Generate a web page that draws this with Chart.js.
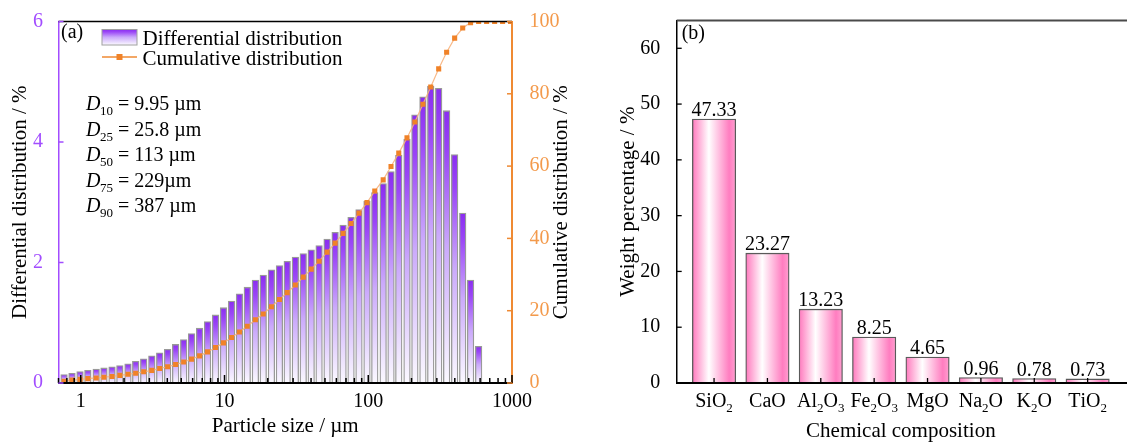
<!DOCTYPE html>
<html>
<head>
<meta charset="utf-8">
<script src="https://cdn.jsdelivr.net/npm/chart.js"></script>
<style>
  html, body { margin: 0; padding: 0; background: #fff; overflow: hidden; }
  #wrap { position: relative; width: 1127px; height: 446px; overflow: hidden; }
  #left { position: absolute; left: 0; top: 0; }
  #right { position: absolute; left: 580px; top: 0; }
</style>
</head>
<body>
<div id="wrap">
  <canvas id="left" width="580" height="446"></canvas>
  <canvas id="right" width="549" height="446"></canvas>
</div>
<script>
const FONT = "'Liberation Serif', 'Times New Roman', serif";

// (a) particle size distribution
const sizes = [0.765, 0.869, 0.988, 1.12, 1.28, 1.45, 1.65, 1.87, 2.13, 2.41,
  2.74, 3.12, 3.54, 4.02, 4.57, 5.20, 5.90, 6.71, 7.62, 8.66,
  9.84, 11.2, 12.7, 14.4, 16.4, 18.6, 21.2, 24.1, 27.3, 31.1,
  35.3, 40.1, 45.5, 51.7, 58.8, 66.8, 75.9, 86.2, 98.0, 111,
  127, 144, 163, 186, 211, 240, 272, 309, 351, 399,
  454, 515, 586];
const differential = [0.14, 0.16, 0.19, 0.21, 0.23, 0.25, 0.27, 0.29, 0.32, 0.36,
  0.40, 0.45, 0.50, 0.56, 0.64, 0.72, 0.82, 0.91, 1.02, 1.13,
  1.25, 1.36, 1.48, 1.59, 1.71, 1.79, 1.88, 1.95, 2.02, 2.09,
  2.15, 2.21, 2.28, 2.39, 2.50, 2.62, 2.75, 2.88, 3.02, 3.16,
  3.31, 3.51, 3.78, 4.05, 4.45, 4.75, 4.93, 4.89, 4.52, 3.79,
  2.82, 1.71, 0.61];
const tailSizes = [666, 757, 860, 977];
const cumSizes = sizes.concat(tailSizes);
const cumulative = [0.5, 0.8, 1.0, 1.2, 1.4, 1.6, 1.8, 2.1, 2.4, 2.7,
  3.1, 3.5, 4.0, 4.5, 5.1, 5.8, 6.6, 7.5, 8.6, 9.8,
  11.1, 12.6, 14.1, 15.7, 17.5, 19.1, 21.1, 23.1, 25.0, 27.1,
  29.3, 31.5, 33.7, 36.2, 38.7, 41.4, 44.1, 47.0, 49.9, 53.1,
  56.2, 59.9, 63.6, 67.8, 72.2, 77.1, 81.9, 86.9, 91.5, 95.4,
  98.2, 99.7, 100, 100, 100, 100, 100];
const xTickValues = [1, 10, 100, 1000];
const dSubs = ['10', '25', '50', '75', '90'];
const dValues = ['9.95 µm', '25.8 µm', '113 µm', '229µm', '387 µm'];

// (b) chemical composition
const oxides = ['SiO2', 'CaO', 'Al2O3', 'Fe2O3', 'MgO', 'Na2O', 'K2O', 'TiO2'];
const weights = [47.33, 23.27, 13.23, 8.25, 4.65, 0.96, 0.78, 0.73];

const PURPLE = '#a24dff';
const ORANGE = '#ef8a33';

function purpleGradient(ctx, top, base) {
  const g = ctx.createLinearGradient(0, top, 0, base);
  g.addColorStop(0, '#8a2df0');
  g.addColorStop(0.15, '#9a45f6');
  g.addColorStop(0.5, '#cbaafb');
  g.addColorStop(1, '#fbf9ff');
  return g;
}

function purpleFill(c) {
  const chart = c.chart;
  if (!chart.chartArea || !c.raw) return '#9a4cf5';
  const ys = chart.scales.y;
  const top = ys.getPixelForValue(c.raw.y), base = ys.getPixelForValue(0);
  if (!(base - top > 0.5)) return '#9a4cf5';
  return purpleGradient(chart.ctx, top, base);
}

function pinkFill(c) {
  const chart = c.chart;
  if (!chart.chartArea || !c.raw) return '#ff8ac8';
  const cx = chart.scales.x.getPixelForValue(c.raw.x);
  const half = c.dataset.barThickness / 2;
  const g = chart.ctx.createLinearGradient(cx - half, 0, cx + half, 0);
  g.addColorStop(0, '#ff78bd');
  g.addColorStop(0.38, '#ffffff');
  g.addColorStop(0.85, '#ff7dc0');
  g.addColorStop(1, '#ff9fd0');
  return g;
}

// text with digits drawn as subscripts (SiO2 -> SiO₂)
function chemWidth(ctx, text, size) {
  let w = 0;
  for (const ch of text) {
    ctx.font = (/\d/.test(ch) ? Math.round(size * 0.65) : size) + 'px ' + FONT;
    w += ctx.measureText(ch).width;
  }
  return w;
}
function drawChem(ctx, text, cx, y, size) {
  let x = cx - chemWidth(ctx, text, size) / 2;
  ctx.textAlign = 'left';
  for (const ch of text) {
    const sub = /\d/.test(ch);
    ctx.font = (sub ? Math.round(size * 0.65) : size) + 'px ' + FONT;
    ctx.fillText(ch, x, sub ? y + 5 : y);
    x += ctx.measureText(ch).width;
  }
}

const leftDecor = {
  id: 'leftDecor',
  afterDatasetsDraw(chart) {
    const {ctx, chartArea: a, scales} = chart;
    ctx.save();
    // frame top
    ctx.strokeStyle = '#000';
    ctx.lineWidth = 1.5;
    ctx.beginPath(); ctx.moveTo(a.left, a.top); ctx.lineTo(a.right, a.top); ctx.stroke();
    ctx.lineWidth = 2;
    ctx.beginPath(); ctx.moveTo(a.left, a.bottom); ctx.lineTo(a.right, a.bottom); ctx.stroke();
    // inward ticks on log axis
    ctx.lineWidth = 1.5;
    scales.x.ticks.forEach(t => {
      const px = scales.x.getPixelForValue(t.value);
      const major = xTickValues.some(v => Math.abs(v - t.value) < v * 1e-6);
      ctx.beginPath(); ctx.moveTo(px, a.bottom); ctx.lineTo(px, a.bottom - (major ? 8 : 5)); ctx.stroke();
    });
    ctx.strokeStyle = PURPLE;
    scales.y.ticks.forEach(t => {
      const py = scales.y.getPixelForValue(t.value);
      ctx.beginPath(); ctx.moveTo(a.left, py); ctx.lineTo(a.left + 5, py); ctx.stroke();
    });
    ctx.strokeStyle = ORANGE;
    scales.y1.ticks.forEach(t => {
      const py = scales.y1.getPixelForValue(t.value);
      ctx.beginPath(); ctx.moveTo(a.right, py); ctx.lineTo(a.right - 5, py); ctx.stroke();
    });
    // right axis title, reading bottom to top
    ctx.fillStyle = '#000';
    ctx.font = '21px ' + FONT;
    ctx.textAlign = 'center';
    ctx.textBaseline = 'middle';
    ctx.translate(561, (a.top + a.bottom) / 2);
    ctx.rotate(-Math.PI / 2);
    ctx.fillText('Cumulative distribution / %', 0, 0);
    ctx.restore();

    ctx.save();
    ctx.textBaseline = 'alphabetic';
    ctx.fillStyle = '#000';
    ctx.font = '20px ' + FONT;
    ctx.fillText('(a)', a.left + 2.5, 38);
    // legend
    const ds = chart.data.datasets;
    ctx.fillStyle = purpleGradient(ctx, 29.5, 45);
    ctx.fillRect(102, 29.5, 35, 15.5);
    ctx.strokeStyle = '#a0a0a0';
    ctx.lineWidth = 1;
    ctx.strokeRect(102, 29.5, 35, 15.5);
    ctx.strokeStyle = ORANGE;
    ctx.lineWidth = 1.5;
    ctx.beginPath(); ctx.moveTo(102, 57); ctx.lineTo(137, 57); ctx.stroke();
    ctx.fillStyle = '#f08228';
    ctx.fillRect(116.5, 54, 6, 6);
    ctx.fillStyle = '#000';
    ctx.font = '21px ' + FONT;
    ctx.fillText(ds[1].label, 142.5, 44.5);
    ctx.fillText(ds[0].label, 142.5, 64.5);
    // D values
    dSubs.forEach((s, i) => {
      const y = 110 + i * 25.5;
      let x = 86;
      ctx.font = 'italic 20px ' + FONT;
      ctx.fillText('D', x, y);
      x += ctx.measureText('D').width - 0.5;
      ctx.font = '13px ' + FONT;
      ctx.fillText(s, x, y + 5);
      x += ctx.measureText(s).width + 5;
      ctx.font = '20px ' + FONT;
      ctx.fillText('= ' + dValues[i], x, y);
    });
    ctx.restore();
  }
};

new Chart(document.getElementById('left'), {
  type: 'bar',
  data: {
    datasets: [
      {
        type: 'line',
        label: 'Cumulative distribution',
        data: cumSizes.map((s, i) => ({x: s, y: cumulative[i]})),
        yAxisID: 'y1',
        borderColor: 'rgba(247, 178, 125, 0.9)',
        borderWidth: 1.2,
        pointStyle: 'rect',
        pointRadius: 3.6,
        pointBackgroundColor: '#f08228',
        pointBorderWidth: 0,
        tension: 0,
        clip: 0,
        order: 0
      },
      {
        type: 'bar',
        label: 'Differential distribution',
        data: sizes.map((s, i) => ({x: s, y: differential[i]})),
        yAxisID: 'y',
        backgroundColor: purpleFill,
        borderColor: '#999999',
        borderWidth: 1.3,
        borderSkipped: false,
        barThickness: 6.6,
        order: 1
      }
    ]
  },
  options: {
    responsive: false,
    animation: false,
    layout: {padding: {top: 18, left: 0, right: 0, bottom: 0}},
    plugins: {legend: {display: false}, tooltip: {enabled: false}},
    scales: {
      x: {
        type: 'logarithmic',
        min: 0.711,
        max: 1000,
        offset: false,
        grid: {display: false, offset: false},
        border: {display: true, color: '#000', width: 2},
        afterBuildTicks: s => {
          s.ticks = s.ticks.filter(t => {
            const m = t.value / Math.pow(10, Math.floor(Math.log10(t.value) + 1e-9));
            return Math.abs(m - Math.round(m)) < 1e-6;
          });
        },
        ticks: {
          autoSkip: false,
          maxRotation: 0,
          padding: -1,
          color: '#000',
          font: {family: FONT, size: 20},
          callback: v => {
            const hit = xTickValues.find(t => Math.abs(t - v) < t * 1e-6);
            return hit ? String(hit) : '';
          }
        },
        title: {display: true, text: 'Particle size / µm', color: '#000',
          font: {family: FONT, size: 21}, padding: {top: 0, bottom: 7}},
        afterFit: s => { s.height = 63; }
      },
      y: {
        position: 'left',
        min: 0,
        max: 6,
        grid: {display: false},
        border: {display: true, color: PURPLE, width: 1.5},
        ticks: {stepSize: 2, padding: 7.5, color: PURPLE, font: {family: FONT, size: 20}},
        title: {display: true, text: 'Differential distribution / %', color: '#000',
          font: {family: FONT, size: 21}, padding: {top: 8, bottom: 0}},
        afterFit: s => { s.width = 58.5; }
      },
      y1: {
        position: 'right',
        min: 0,
        max: 100,
        grid: {display: false},
        border: {display: true, color: ORANGE, width: 2},
        ticks: {stepSize: 20, padding: 9.5, color: '#f39a4c', font: {family: FONT, size: 20}},
        afterFit: s => { s.width = 68; }
      }
    }
  },
  plugins: [leftDecor]
});

const rightDecor = {
  id: 'rightDecor',
  afterDatasetsDraw(chart) {
    const {ctx, chartArea: a, scales} = chart;
    ctx.save();
    ctx.strokeStyle = '#4a4a4a';
    ctx.lineWidth = 2;
    ctx.beginPath(); ctx.moveTo(a.left, a.top); ctx.lineTo(chart.width, a.top); ctx.stroke();
    ctx.strokeStyle = '#000';
    ctx.beginPath(); ctx.moveTo(a.left, a.bottom); ctx.lineTo(chart.width, a.bottom); ctx.stroke();
    ctx.lineWidth = 1.3;
    scales.y.ticks.forEach(t => {
      const py = scales.y.getPixelForValue(t.value);
      ctx.beginPath(); ctx.moveTo(a.left, py); ctx.lineTo(a.left + 5, py); ctx.stroke();
    });
    const meta = chart.getDatasetMeta(0);
    ctx.fillStyle = '#000';
    ctx.textBaseline = 'alphabetic';
    meta.data.forEach((bar, i) => {
      ctx.beginPath(); ctx.moveTo(bar.x, a.bottom); ctx.lineTo(bar.x, a.bottom - 5); ctx.stroke();
      ctx.font = '20px ' + FONT;
      ctx.textAlign = 'center';
      ctx.fillText(weights[i].toFixed(2), bar.x, bar.y - 3);
      drawChem(ctx, oxides[i], bar.x, 406.5, 20);
    });
    ctx.textAlign = 'left';
    ctx.font = '20px ' + FONT;
    ctx.fillText('(b)', a.left + 5, 39);
    ctx.restore();
  }
};

new Chart(document.getElementById('right'), {
  type: 'bar',
  data: {
    datasets: [{
      label: 'Weight percentage',
      data: oxides.map((o, i) => ({x: i + 1, y: weights[i]})),
      backgroundColor: pinkFill,
      borderColor: '#5a5a5a',
      borderWidth: 1.3,
      borderSkipped: false,
      barThickness: 43.4
    }]
  },
  options: {
    responsive: false,
    animation: false,
    layout: {padding: {top: 18, left: 0, right: 4, bottom: 0}},
    plugins: {legend: {display: false}, tooltip: {enabled: false}},
    scales: {
      x: {
        type: 'linear',
        min: 0.3,
        max: 8.7,
        offset: false,
        grid: {display: false, offset: false},
        border: {display: true, color: '#000', width: 2},
        afterBuildTicks: s => { s.ticks = oxides.map((o, i) => ({value: i + 1})); },
        ticks: {display: false},
        title: {display: true, text: 'Chemical composition', color: '#000',
          font: {family: FONT, size: 21}, padding: {top: 0, bottom: 1.5}},
        afterFit: s => { s.height = 63; }
      },
      y: {
        min: 0,
        max: 65,
        grid: {display: false},
        border: {display: true, color: '#000', width: 1.5},
        afterBuildTicks: s => { s.ticks = s.ticks.filter(t => t.value % 10 === 0); },
        ticks: {stepSize: 10, padding: 8.4, color: '#000', font: {family: FONT, size: 20}},
        title: {display: true, text: 'Weight percentage / %', color: '#000',
          font: {family: FONT, size: 21}, padding: {top: 35.5, bottom: 0}},
        afterFit: s => { s.width = 96.7; }
      }
    }
  },
  plugins: [rightDecor]
});
</script>
</body>
</html>
